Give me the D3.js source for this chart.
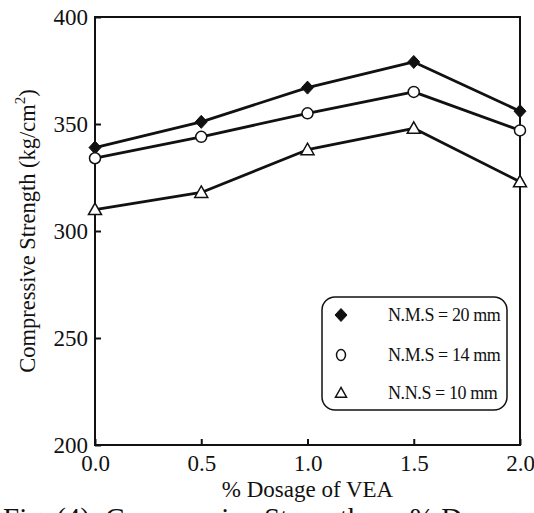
<!DOCTYPE html>
<html>
<head>
<meta charset="utf-8">
<script src="https://cdn.jsdelivr.net/npm/d3@7"></script>
<style>
  html, body { margin: 0; padding: 0; background: #fff; }
  svg { display: block; }
  text { font-family: "Liberation Serif", "Times New Roman", serif; fill: #111; }
</style>
</head>
<body>
<svg id="chart" width="534" height="513"></svg>
<script>
// Compressive strength (kg/cm²) against VEA dosage (%)
const dosage = [0.0, 0.5, 1.0, 1.5, 2.0];
const nms20 = [339, 351, 367, 379, 356];
const nms14 = [334, 344, 355, 365, 347];
const nns10 = [310, 318, 338, 348, 323];

const xTicks = [0.0, 0.5, 1.0, 1.5, 2.0];
const yTicks = [200, 250, 300, 350, 400];

const seriesNames = ["N.M.S = 20 mm", "N.M.S = 14 mm", "N.N.S = 10 mm"];
const seriesValues = [nms20, nms14, nns10];
const seriesSymbols = ["diamond", "circle", "triangle"];

const svg = d3.select("#chart");
const margin = { left: 95, right: 14, top: 17, bottom: 68 };
const W = 534, H = 513;
const x = d3.scaleLinear().domain([0, 2]).range([margin.left, W - margin.right]);
const y = d3.scaleLinear().domain([200, 400]).range([H - margin.bottom, margin.top]);

const ink = "#111";

// plot frame
svg.append("rect")
  .attr("x", x(0)).attr("y", y(400))
  .attr("width", x(2) - x(0)).attr("height", y(200) - y(400))
  .attr("fill", "none").attr("stroke", ink).attr("stroke-width", 2);

// bottom axis: inward ticks
const xAxis = svg.append("g")
  .attr("transform", `translate(0,${y(200)})`)
  .call(d3.axisBottom(x).tickValues(xTicks).tickSizeInner(-6).tickSizeOuter(0)
    .tickPadding(10).tickFormat(d3.format(".1f")));
xAxis.select(".domain").remove();
xAxis.selectAll("line").attr("stroke", ink).attr("stroke-width", 2);
xAxis.selectAll("text").attr("font-size", 23).attr("font-family", "Liberation Serif").attr("fill", ink);

// left axis: inward ticks
const yAxis = svg.append("g")
  .attr("transform", `translate(${x(0)},0)`)
  .call(d3.axisLeft(y).tickValues(yTicks).tickSizeInner(-6).tickSizeOuter(0)
    .tickPadding(7).tickFormat(d3.format("d")));
yAxis.select(".domain").remove();
yAxis.selectAll("line").attr("stroke", ink).attr("stroke-width", 2);
yAxis.selectAll("text").attr("font-size", 23).attr("font-family", "Liberation Serif").attr("fill", ink);

// axis titles
svg.append("text")
  .attr("x", (x(0) + x(2)) / 2).attr("y", 497)
  .attr("text-anchor", "middle").attr("font-size", 23)
  .text("% Dosage of VEA");

const yt = svg.append("text")
  .attr("transform", `translate(35,${(y(200) + y(400)) / 2}) rotate(-90)`)
  .attr("text-anchor", "middle").attr("font-size", 22.5);
yt.append("tspan").text("Compressive Strength (kg/cm");
yt.append("tspan").attr("font-size", 15).attr("dy", -10).text("2");
yt.append("tspan").attr("dy", 10).text(")");

// caption
svg.append("text")
  .attr("x", 3).attr("y", 528).attr("font-size", 29)
  .text("Fig. (4): Compressive Strength vs. % Dosage of VEA");

// symbol drawing
function drawSymbol(g, type, cx, cy, scale) {
  const s = scale || 1;
  if (type === "diamond") {
    g.append("path")
      .attr("d", `M${cx},${cy - 6.5 * s} L${cx + 6 * s},${cy} L${cx},${cy + 6.5 * s} L${cx - 6 * s},${cy} Z`)
      .attr("fill", ink).attr("stroke", ink).attr("stroke-width", 1);
  } else if (type === "circle") {
    g.append("circle").attr("cx", cx).attr("cy", cy).attr("r", 5.5 * s)
      .attr("fill", "#fff").attr("stroke", ink).attr("stroke-width", 1.5);
  } else {
    g.append("path")
      .attr("d", `M${cx},${cy - 6.5 * s} L${cx + 6.5 * s},${cy + 5 * s} L${cx - 6.5 * s},${cy + 5 * s} Z`)
      .attr("fill", "#fff").attr("stroke", ink).attr("stroke-width", 1.5);
  }
}

const line = d3.line().x(d => x(d[0])).y(d => y(d[1]));

seriesValues.forEach((vals, i) => {
  const pts = dosage.map((d, j) => [d, vals[j]]);
  svg.append("path").datum(pts).attr("d", line)
    .attr("fill", "none").attr("stroke", ink).attr("stroke-width", 2.8)
    .attr("stroke-linejoin", "round");
  const g = svg.append("g");
  pts.forEach(p => drawSymbol(g, seriesSymbols[i], x(p[0]), y(p[1]), 1));
});

// legend
const lg = svg.append("g");
lg.append("rect")
  .attr("x", 322).attr("y", 297).attr("width", 185).attr("height", 113)
  .attr("rx", 13).attr("ry", 13)
  .attr("fill", "#fff").attr("stroke", ink).attr("stroke-width", 1.5);
const rowY = [315, 355, 393];
seriesNames.forEach((name, i) => {
  const sym = seriesSymbols[i];
  if (sym === "circle") {
    lg.append("ellipse").attr("cx", 341).attr("cy", rowY[i]).attr("rx", 4.5).attr("ry", 5.5)
      .attr("fill", "none").attr("stroke", ink).attr("stroke-width", 1.5);
  } else {
    drawSymbol(lg, sym, 341, rowY[i], sym === "triangle" ? 0.85 : 1);
  }
  lg.append("text").attr("x", 388).attr("y", rowY[i] + 6)
    .attr("font-size", 18).attr("letter-spacing", -0.4).text(name);
});
</script>
</body>
</html>
